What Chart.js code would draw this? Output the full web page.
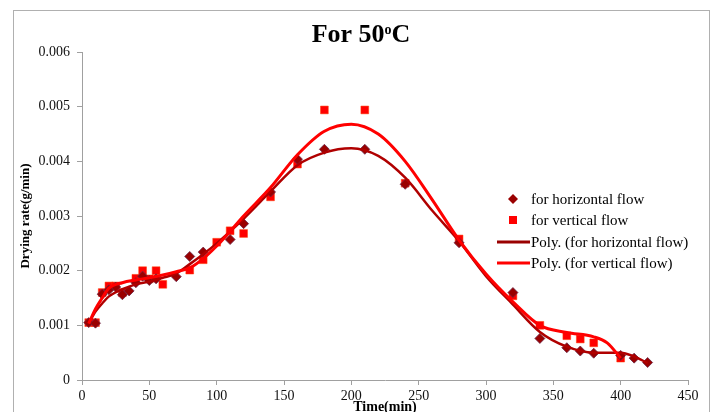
<!DOCTYPE html>
<html>
<head>
<meta charset="utf-8">
<script src="https://cdn.jsdelivr.net/npm/chart.js@4.4.0/dist/chart.umd.min.js"></script>
<style>
  html, body { margin: 0; padding: 0; background: #fff; }
  #wrap { width: 715px; height: 412px; position: relative; }
</style>
</head>
<body>
<div id="wrap"><canvas id="chart"></canvas></div>
<script>
// measured points
const hTime = [5, 10, 15, 20, 25, 30, 35, 40, 45, 50, 55, 70, 80, 90, 110, 120, 140, 160, 180, 210, 240, 280, 320, 340, 360, 370, 380, 400, 410, 420];
const hRate = [0.00105, 0.00104, 0.00157, 0.00165, 0.0017, 0.00156, 0.00163, 0.00178, 0.0019, 0.00182, 0.00185, 0.00189, 0.00226, 0.00234, 0.00257, 0.00286, 0.00344, 0.00404, 0.00422, 0.00422, 0.00358, 0.00251, 0.0016, 0.00076, 0.00059, 0.00053, 0.00049, 0.00045, 0.0004, 0.00032];

const vTime = [5, 10, 15, 20, 25, 30, 40, 45, 50, 55, 60, 80, 90, 100, 110, 120, 140, 160, 180, 210, 240, 280, 320, 340, 360, 370, 380, 400];
const vRate = [0.00105, 0.00105, 0.0016, 0.00172, 0.00172, 0.0016, 0.00186, 0.002, 0.00185, 0.002, 0.00175, 0.00201, 0.0022, 0.00252, 0.00273, 0.00268, 0.00335, 0.00395, 0.00494, 0.00494, 0.0036, 0.00258, 0.00154, 0.001, 0.00081, 0.00075, 0.00068, 0.0004];

// poly trendlines
const hTrendTime = [5, 10, 15, 20, 30, 40, 50, 60, 70, 80, 90, 100, 110, 120, 140, 160, 180, 200, 220, 240, 260, 280, 300, 320, 340, 360, 380, 400, 410, 420];
const hTrend = [0.00104, 0.00125, 0.0014, 0.00153, 0.00166, 0.00175, 0.0018, 0.00187, 0.00195, 0.00212, 0.0023, 0.0025, 0.00272, 0.00295, 0.00345, 0.00393, 0.00416, 0.00424, 0.0041, 0.0037, 0.0031, 0.00254, 0.0019, 0.00138, 0.00088, 0.00061, 0.0005, 0.0005, 0.00043, 0.00031];

const vTrendTime = [5, 10, 15, 20, 30, 40, 50, 60, 70, 80, 90, 100, 110, 120, 140, 160, 180, 200, 220, 240, 260, 280, 300, 320, 340, 360, 380, 390, 400];
const vTrend = [0.00103, 0.0013, 0.0015, 0.00168, 0.00178, 0.00183, 0.00187, 0.00192, 0.00198, 0.00205, 0.00222, 0.00245, 0.00272, 0.003, 0.00352, 0.00412, 0.00455, 0.00468, 0.0045, 0.004, 0.0033, 0.00256, 0.00194, 0.00143, 0.001, 0.00087, 0.00079, 0.00068, 0.0004];

const legendLabels = ['for horizontal flow', 'for vertical flow', 'Poly. (for horizontal flow)', 'Poly. (for vertical flow)'];

const toXY = (xs, ys) => xs.map((x, i) => ({ x: x, y: ys[i] }));

const SERIF = '"Liberation Serif", "Times New Roman", serif';
const DARK = '#9a0000';
const RED = '#ff0000';

// frame, title, axis titles and legend
const decor = {
    id: 'decor',
    afterDraw(chart) {
        const ctx = chart.ctx;
        const area = chart.chartArea;
        ctx.save();
        ctx.strokeStyle = '#b0b0b0';
        ctx.lineWidth = 1;
        ctx.strokeRect(13.5, 10.5, 696, 420);

        // title with raised o
        ctx.fillStyle = '#000';
        ctx.textBaseline = 'alphabetic';
        const p1 = 'For 50', p3 = 'C';
        ctx.font = 'bold 26px ' + SERIF;
        const w1 = ctx.measureText(p1).width;
        const w3 = ctx.measureText(p3).width;
        ctx.font = 'bold 14px ' + SERIF;
        const w2 = ctx.measureText('o').width;
        let x = 361 - (w1 + w2 + w3) / 2;
        ctx.font = 'bold 26px ' + SERIF;
        ctx.textAlign = 'left';
        ctx.fillText(p1, x, 42);
        ctx.font = 'bold 14px ' + SERIF;
        ctx.fillText('o', x + w1, 34);
        ctx.font = 'bold 26px ' + SERIF;
        ctx.fillText(p3, x + w1 + w2, 42);

        // axis titles
        ctx.font = 'bold 14px ' + SERIF;
        ctx.textAlign = 'center';
        ctx.fillText('Time(min)', (area.left + area.right) / 2, 411);
        ctx.save();
        ctx.translate(26, (area.top + area.bottom) / 2);
        ctx.rotate(-Math.PI / 2);
        ctx.textBaseline = 'middle';
        ctx.font = 'bold 13px ' + SERIF;
        ctx.fillText('Drying rate(g/min)', 0, 0);
        ctx.restore();

        // legend
        ctx.font = '15px ' + SERIF;
        ctx.textAlign = 'left';
        ctx.textBaseline = 'middle';
        const rows = [199, 220, 242, 263];
        rows.forEach((y, i) => {
            if (i === 0) {
                ctx.fillStyle = DARK;
                ctx.beginPath();
                ctx.moveTo(513, y - 5); ctx.lineTo(518, y); ctx.lineTo(513, y + 5); ctx.lineTo(508, y);
                ctx.closePath();
                ctx.fill();
            } else if (i === 1) {
                ctx.fillStyle = RED;
                ctx.fillRect(509, y - 4, 8, 8);
            } else {
                ctx.strokeStyle = i === 2 ? DARK : RED;
                ctx.lineWidth = 3;
                ctx.beginPath();
                ctx.moveTo(497, y); ctx.lineTo(530, y);
                ctx.stroke();
            }
            ctx.fillStyle = '#000';
            ctx.fillText(legendLabels[i], 531, y + 1);
        });
        ctx.restore();
    }
};

const ctx = document.getElementById('chart').getContext('2d');
const chart = new Chart(ctx, {
    type: 'scatter',
    data: {
        datasets: [{
            label: legendLabels[0],
            data: toXY(hTime, hRate),
            pointStyle: 'rectRot',
            pointRadius: 5,
            backgroundColor: DARK,
            borderColor: '#6b2a4a',
            borderWidth: 0.8,
            order: 3
        }, {
            label: legendLabels[1],
            data: toXY(vTime, vRate),
            pointStyle: 'rect',
            pointRadius: 5.5,
            backgroundColor: RED,
            borderColor: '#ff3a00',
            borderWidth: 0.5,
            order: 4
        }, {
            label: legendLabels[2],
            data: toXY(hTrendTime, hTrend),
            showLine: true,
            pointRadius: 0,
            borderColor: '#b00000',
            borderWidth: 2.5,
            cubicInterpolationMode: 'monotone',
            order: 2
        }, {
            label: legendLabels[3],
            data: toXY(vTrendTime, vTrend),
            showLine: true,
            pointRadius: 0,
            borderColor: RED,
            borderWidth: 3,
            cubicInterpolationMode: 'monotone',
            order: 1
        }]
    },
    options: {
        responsive: true,
        maintainAspectRatio: false,
        animation: false,
        layout: { padding: { left: 0, right: 27, top: 52, bottom: 0 } },
        plugins: {
            legend: { display: false },
            tooltip: { enabled: false }
        },
        scales: {
            x: {
                type: 'linear',
                min: 0,
                max: 450,
                ticks: { stepSize: 50, color: '#111', padding: 3, font: { family: SERIF, size: 14 } },
                grid: { drawOnChartArea: false, tickLength: 5, color: '#a0a0a0' },
                border: { color: '#a0a0a0' },
                afterFit: (s) => { s.height = 32; }
            },
            y: {
                min: 0,
                max: 0.006,
                ticks: {
                    stepSize: 0.001,
                    color: '#111',
                    padding: 7,
                    font: { family: SERIF, size: 14 },
                    callback: (v) => v === 0 ? '0' : v.toFixed(3)
                },
                grid: { drawOnChartArea: false, tickLength: 5, color: '#a0a0a0' },
                border: { color: '#a0a0a0' },
                afterFit: (s) => { s.width = 82; }
            }
        }
    },
    plugins: [decor]
});
</script>
</body>
</html>
